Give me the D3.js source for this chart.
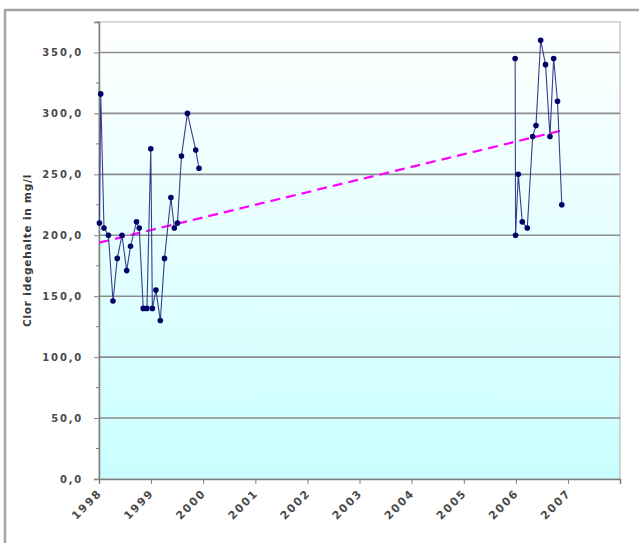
<!DOCTYPE html>
<html>
<head>
<meta charset="utf-8">
<script src="https://cdn.jsdelivr.net/npm/d3@7"></script>
<style>
  html, body { margin: 0; padding: 0; background: #ffffff; }
  svg { display: block; }
</style>
</head>
<body>
<svg id="chart" width="639" height="543"></svg>
<script>
// ---- data ----
const dates1998 = ["1998-01-04","1998-01-13","1998-02-05","1998-03-08","1998-04-09","1998-05-09",
  "1998-06-11","1998-07-14","1998-08-10","1998-09-21","1998-10-10","1998-11-07","1998-12-03",
  "1998-12-30","1999-01-10","1999-02-04","1999-03-07","1999-04-05","1999-05-20","1999-06-13",
  "1999-07-05","1999-08-02","1999-09-13","1999-11-10","1999-12-03"];
const values1998 = [210, 316, 206, 200, 146, 181, 200, 171, 191, 211, 206, 140, 140,
  271, 140, 155, 130, 181, 231, 206, 210, 265, 300, 270, 255];

const dates2006 = ["2005-12-27","2005-12-30","2006-01-18","2006-02-15","2006-03-22","2006-04-29",
  "2006-05-22","2006-06-24","2006-07-28","2006-08-28","2006-09-23","2006-10-20","2006-11-19"];
const values2006 = [345, 200, 250, 211, 206, 281, 290, 360, 340, 281, 345, 310, 225];

// linear trend line (end points)
const trendDates = ["1998-01-04", "2006-11-19"];
const trendValues = [194, 286];

const yearTicks = ["1998","1999","2000","2001","2002","2003","2004","2005","2006","2007","2008"];
const yearLabels = ["1998","1999","2000","2001","2002","2003","2004","2005","2006","2007"];
const yTicks = [0, 50, 100, 150, 200, 250, 300, 350];
const yMinorTicks = [25, 75, 125, 175, 225, 275, 325, 375];
const yTitle = "Clor idegehalte in mg/l";

// ---- layout ----
const svg = d3.select("#chart");
const parse = d3.timeParse("%Y-%m-%d");
const plot = { left: 99, right: 620, top: 22, bottom: 479 };

const x = d3.scaleTime()
  .domain([new Date(1998, 0, 1), new Date(2008, 0, 1)])
  .range([plot.left, plot.right]);
const y = d3.scaleLinear().domain([0, 375]).range([plot.bottom, plot.top]);

// chart-area border (top & left visible)
svg.append("path")
  .attr("d", `M5,543 L5,10 L639,10`)
  .attr("fill", "none").attr("stroke", "#a3a3a3").attr("stroke-width", 2.5);

// plot-area gradient
const defs = svg.append("defs");
const grad = defs.append("linearGradient").attr("id", "bg")
  .attr("x1", 0).attr("y1", 0).attr("x2", 0).attr("y2", 1);
grad.append("stop").attr("offset", "0%").attr("stop-color", "#ffffff");
grad.append("stop").attr("offset", "100%").attr("stop-color", "#c9ffff");

svg.append("rect")
  .attr("x", plot.left).attr("y", plot.top)
  .attr("width", plot.right - plot.left).attr("height", plot.bottom - plot.top)
  .attr("fill", "url(#bg)")
  .attr("stroke", "#b0b0b0").attr("stroke-width", 1);

// horizontal grid lines
svg.append("g").selectAll("line").data(yTicks.filter(d => d > 0)).join("line")
  .attr("x1", plot.left).attr("x2", plot.right)
  .attr("y1", d => y(d)).attr("y2", d => y(d))
  .attr("stroke", "#8c8c8c").attr("stroke-width", 1.6);

// y axis
const yAxis = d3.axisLeft(y).tickValues(yTicks).tickSize(5).tickPadding(11)
  .tickFormat(d => d3.format(".1f")(d).replace(".", ","));
const gy = svg.append("g").attr("transform", `translate(${plot.left},0)`).call(yAxis);
gy.select(".domain").attr("stroke", "#808080").attr("stroke-width", 1.5);
gy.selectAll(".tick line").attr("stroke", "#808080");
gy.selectAll("text")
  .attr("font-family", "DejaVu Sans, Verdana, sans-serif")
  .attr("font-size", 10).attr("font-weight", "bold")
  .attr("letter-spacing", "1.8px")
  .attr("fill", "#4a4a4a");

// minor y ticks
svg.append("g").selectAll("line").data(yMinorTicks).join("line")
  .attr("x1", plot.left - 3).attr("x2", plot.left)
  .attr("y1", d => y(d)).attr("y2", d => y(d))
  .attr("stroke", "#808080");

// x axis
const xAxis = d3.axisBottom(x)
  .tickValues(yearTicks.map(s => new Date(+s, 0, 1)))
  .tickSize(5)
  .tickFormat(d => yearLabels.includes(String(d.getFullYear())) ? String(d.getFullYear()) : "");
const gx = svg.append("g").attr("transform", `translate(0,${plot.bottom})`).call(xAxis);
gx.select(".domain").attr("stroke", "#808080").attr("stroke-width", 1.5);
gx.selectAll(".tick line").attr("stroke", "#808080");
gx.selectAll("text")
  .attr("font-family", "DejaVu Sans, Verdana, sans-serif")
  .attr("font-size", 11).attr("font-weight", "bold")
  .attr("letter-spacing", "1.6px")
  .attr("fill", "#4a4a4a")
  .attr("text-anchor", "end")
  .attr("dy", null).attr("y", 0)
  .attr("transform", "translate(3,15) rotate(-45)");

// y title
svg.append("text")
  .attr("transform", `translate(31,${(plot.top + plot.bottom) / 2}) rotate(-90)`)
  .attr("text-anchor", "middle")
  .attr("font-family", "DejaVu Sans, Verdana, sans-serif")
  .attr("font-size", 10.5).attr("font-weight", "bold")
  .attr("letter-spacing", "0.8px")
  .attr("fill", "#3a3a3a")
  .text(yTitle);

// trend line
const trend = trendDates.map((d, i) => ({ t: parse(d), v: trendValues[i] }));
const line = d3.line().x(d => x(d.t)).y(d => y(d.v));
svg.append("path").datum(trend)
  .attr("d", line).attr("fill", "none")
  .attr("stroke", "#ff00ff").attr("stroke-width", 2.2)
  .attr("stroke-dasharray", "10,6");

// data series
const series = [
  dates1998.map((d, i) => ({ t: parse(d), v: values1998[i] })),
  dates2006.map((d, i) => ({ t: parse(d), v: values2006[i] }))
];
series.forEach(s => {
  svg.append("path").datum(s)
    .attr("d", line).attr("fill", "none")
    .attr("stroke", "#3a3d8f").attr("stroke-width", 1.1);
  svg.append("g").selectAll("circle").data(s).join("circle")
    .attr("cx", d => x(d.t)).attr("cy", d => y(d.v)).attr("r", 2.8)
    .attr("fill", "#000066");
});
</script>
</body>
</html>
